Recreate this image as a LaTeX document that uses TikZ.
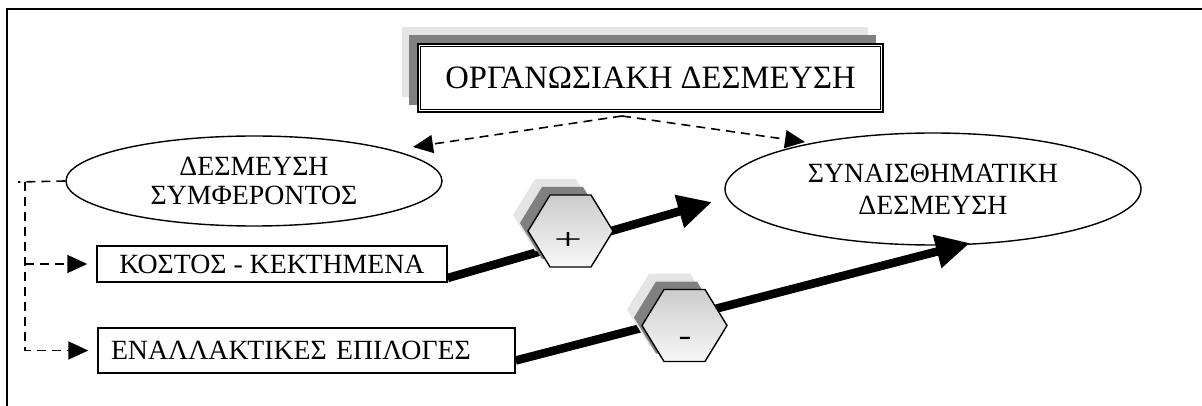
\documentclass[tikz,border=0pt]{standalone}
\usepackage{graphicx}
\usepackage{fontspec}
\setmainfont{Liberation Serif}
\usetikzlibrary{shapes.geometric,arrows.meta}
\definecolor{shadelight}{gray}{0.9}
\definecolor{shadedark}{gray}{0.5}
\begin{document}
\begin{tikzpicture}[x=1pt,y=-1pt,
  lbl/.style={font=\fontsize{27.8}{29}\selectfont, align=center},
  oval/.style={ellipse, draw, line width=1.4pt, inner sep=0pt, lbl},
  box/.style={rectangle, draw, line width=1.4pt, inner sep=0pt, lbl},
  dashlink/.style={line width=1.6pt, dash pattern=on 9pt off 6pt},
  dasharrow/.style={dashlink, -{Triangle[length=20pt,width=18pt]}},
  thickarrow/.style={line width=8.5pt, -{Triangle[length=34pt,width=32pt]}},
  hexmain/.style={draw, line width=1.4pt, top color=gray!40, bottom color=gray!6},
  sign/.style={font=\fontsize{30}{30}\selectfont, inner sep=0pt},
  hexagon/.pic={\path[pic actions] (-42.5,0) -- (-20.5,-36) -- (20.5,-36)
      -- (42.5,0) -- (20.5,36) -- (-20.5,36) -- cycle;},
]
\useasboundingbox (0,0) rectangle (1202,406);

% page frame (top and left edges)
\draw[line width=2.2pt] (7,406) -- (7,9) -- (1202,9);

% title box with two stacked shadows and a double border
\fill[shadelight] (402,27) rectangle (868,97);
\fill[shadedark] (409,35) rectangle (876,105);
\node[draw, fill=white, line width=2.6pt, minimum width=465pt, minimum height=68pt,
  inner sep=0pt, font=\fontsize{32.6}{36}\selectfont] (title) at (650.5,78)
  {ΟΡΓΑΝΩΣΙΑΚΗ ΔΕΣΜΕΥΣΗ};
\draw[line width=1pt] ([shift={(4,4)}]title.north west) rectangle ([shift={(-4,-4)}]title.south east);

% the two kinds of commitment
\node[oval, minimum width=376pt, minimum height=90pt] (interest) at (254,181)
  {ΔΕΣΜΕΥΣΗ\\ΣΥΜΦΕΡΟΝΤΟΣ};
\node[oval, minimum width=416pt, minimum height=112pt,
  font=\fontsize{27.8}{32}\selectfont] (affect) at (933,189)
  {ΣΥΝΑΙΣΘΗΜΑΤΙΚΗ\\ΔΕΣΜΕΥΣΗ};

% components of the interest commitment
\node[box, minimum width=350pt, minimum height=36pt] (cost) at (272,264)
  {ΚΟΣΤΟΣ - ΚΕΚΤΗΜΕΝΑ};
\node[box, minimum width=417pt, minimum height=45pt, text width=391pt,
  inner xsep=13pt, align=left] (alt) at (306.5,350.5)
  {ΕΝΑΛΛΑΚΤΙΚΕΣ ΕΠΙΛΟΓΕΣ};

% dashed links from the title
\coordinate (fork) at (622,116);
\coordinate (tipL) at (413,147);
\coordinate (tipR) at (805,142);
\draw[dasharrow] (fork) -- (tipL);
\draw[dasharrow] (fork) -- (tipR);

% dashed rail from the interest commitment to its components
\coordinate (railend) at (18,182);
\coordinate (railtop) at (25,182);
\draw[dashlink] (interest.west) -- (railend);
\draw[dasharrow, shorten >=9pt] (railtop) |- (alt.west);
\draw[dasharrow, shorten >=9pt] (railtop |- cost.west) -- (cost.west);

% effects on the affective commitment
\coordinate (headA) at (712,202);
\coordinate (headB) at (970,243);
\draw[thickarrow] ([yshift=-14pt]cost.east) -- (headA);
\draw[thickarrow] ([yshift=-10pt]alt.east) -- (headB);

% sign hexagons with stacked shadows
\pic[fill=shadelight] at (555.5,215) {hexagon};
\pic[fill=shadedark] at (562.5,223) {hexagon};
\pic[hexmain] at (570.5,231) {hexagon};
\node[sign] (plus) at (568,241) {\scalebox{1.65}[1]{+}};

\pic[fill=shadelight] at (669.5,309.5) {hexagon};
\pic[fill=shadedark] at (676.5,317.5) {hexagon};
\pic[hexmain] at (684.5,325.5) {hexagon};
\node[sign] (minus) at (685,341) {\scalebox{1.3}[1]{-}};
\end{tikzpicture}
\end{document}
